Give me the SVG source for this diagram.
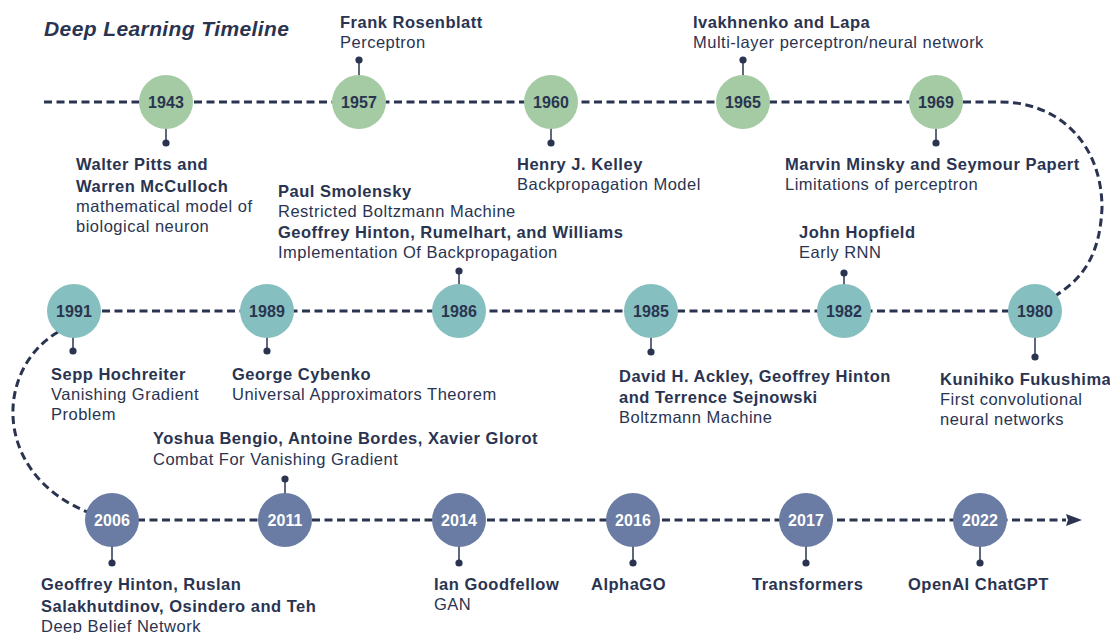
<svg xmlns="http://www.w3.org/2000/svg" width="1110" height="633" viewBox="0 0 1110 633">
<style>
text{font-family:"Liberation Sans",Arial,sans-serif;fill:#2a3451;letter-spacing:0.5px}
.t{font-size:21px;font-weight:bold;font-style:italic;letter-spacing:0.4px}
.b{font-size:16.5px;font-weight:bold}
.r{font-size:16.5px}
.y{font-size:16px;font-weight:bold;text-anchor:middle;letter-spacing:0.1px}
.yw{fill:#ffffff}
.g1{fill:#a4cba4}
.g2{fill:#86bfbf}
.g3{fill:#6a7ca3}
.stem{stroke:#2a3451;stroke-width:1.5}
.dot{fill:#2a3451}
.con{fill:none;stroke:#2a3451;stroke-width:3;stroke-dasharray:8 4.5}
</style>
<defs>
<marker id="ah" viewBox="0 0 16 12" markerWidth="16" markerHeight="12" refX="0" refY="6" orient="auto" markerUnits="userSpaceOnUse">
<path d="M0,0 L16,6 L0,12 L2,6 Z" fill="#2a3451"/>
</marker>
</defs>
<rect width="1110" height="633" fill="#ffffff"/>
<text class="t" x="44" y="36">Deep Learning Timeline</text>

<g id="connectors">
<path class="con" d="M44 102 L936 102"/>
<path class="con" d="M963 102 L1000 102 C1060 102 1102 145 1102 208 C1100 250 1087 275 1058 294 L1035 311"/>
<path class="con" d="M1035 311 L75 311"/>
<path class="con" d="M58 332 C-10 372 -8 490 112 520"/>
<path class="con" d="M112 520 L1066 520" marker-end="url(#ah)"/>
</g>

<g id="n1943">
<line class="stem" x1="166" y1="128" x2="166" y2="143"/><circle class="dot" cx="166" cy="143" r="3.6"/>
<circle class="g1" cx="166" cy="102" r="27"/>
<text class="y" x="166" y="107.5">1943</text>
<text class="b" x="76" y="170">Walter Pitts and</text>
<text class="b" x="76" y="192">Warren McCulloch</text>
<text class="r" x="76" y="212">mathematical model of</text>
<text class="r" x="76" y="232">biological neuron</text>
</g>
<g id="n1957">
<line class="stem" x1="359" y1="60" x2="359" y2="76"/><circle class="dot" cx="359" cy="60" r="3.6"/>
<circle class="g1" cx="359" cy="102" r="27"/>
<text class="y" x="359" y="107.5">1957</text>
<text class="b" x="340" y="28">Frank Rosenblatt</text>
<text class="r" x="340" y="48">Perceptron</text>
</g>
<g id="n1960">
<line class="stem" x1="551" y1="128" x2="551" y2="143"/><circle class="dot" cx="551" cy="143" r="3.6"/>
<circle class="g1" cx="551" cy="102" r="27"/>
<text class="y" x="551" y="107.5">1960</text>
<text class="b" x="517" y="170">Henry J. Kelley</text>
<text class="r" x="517" y="190">Backpropagation Model</text>
</g>
<g id="n1965">
<line class="stem" x1="743" y1="60" x2="743" y2="76"/><circle class="dot" cx="743" cy="60" r="3.6"/>
<circle class="g1" cx="743" cy="102" r="27"/>
<text class="y" x="743" y="107.5">1965</text>
<text class="b" x="693" y="28">Ivakhnenko and Lapa</text>
<text class="r" x="693" y="48">Multi-layer perceptron/neural network</text>
</g>
<g id="n1969">
<line class="stem" x1="936" y1="128" x2="936" y2="143"/><circle class="dot" cx="936" cy="143" r="3.6"/>
<circle class="g1" cx="936" cy="102" r="27"/>
<text class="y" x="936" y="107.5">1969</text>
<text class="b" x="785" y="170">Marvin Minsky and Seymour Papert</text>
<text class="r" x="785" y="190">Limitations of perceptron</text>
</g>

<g id="n1980">
<line class="stem" x1="1035" y1="337" x2="1035" y2="357"/><circle class="dot" cx="1035" cy="357" r="3.6"/>
<circle class="g2" cx="1035" cy="311" r="27"/>
<text class="y" x="1035" y="316.5">1980</text>
<text class="b" x="940" y="385">Kunihiko Fukushima</text>
<text class="r" x="940" y="405">First convolutional</text>
<text class="r" x="940" y="425">neural networks</text>
</g>
<g id="n1982">
<line class="stem" x1="844" y1="273" x2="844" y2="285"/><circle class="dot" cx="844" cy="273" r="3.6"/>
<circle class="g2" cx="844" cy="311" r="27"/>
<text class="y" x="844" y="316.5">1982</text>
<text class="b" x="799" y="238">John Hopfield</text>
<text class="r" x="799" y="258">Early RNN</text>
</g>
<g id="n1985">
<line class="stem" x1="651" y1="337" x2="651" y2="352"/><circle class="dot" cx="651" cy="352" r="3.6"/>
<circle class="g2" cx="651" cy="311" r="27"/>
<text class="y" x="651" y="316.5">1985</text>
<text class="b" x="619" y="382">David H. Ackley, Geoffrey Hinton</text>
<text class="b" x="619" y="403">and Terrence Sejnowski</text>
<text class="r" x="619" y="423">Boltzmann Machine</text>
</g>
<g id="n1986">
<line class="stem" x1="459" y1="271" x2="459" y2="285"/><circle class="dot" cx="459" cy="271" r="3.6"/>
<circle class="g2" cx="459" cy="311" r="27"/>
<text class="y" x="459" y="316.5">1986</text>
<text class="b" x="278" y="197">Paul Smolensky</text>
<text class="r" x="278" y="217">Restricted Boltzmann Machine</text>
<text class="b" x="278" y="238">Geoffrey Hinton, Rumelhart, and Williams</text>
<text class="r" x="278" y="258">Implementation Of Backpropagation</text>
</g>
<g id="n1989">
<line class="stem" x1="267" y1="337" x2="267" y2="351"/><circle class="dot" cx="267" cy="351" r="3.6"/>
<circle class="g2" cx="267" cy="311" r="27"/>
<text class="y" x="267" y="316.5">1989</text>
<text class="b" x="232" y="380">George Cybenko</text>
<text class="r" x="232" y="400">Universal Approximators Theorem</text>
</g>
<g id="n1991">
<line class="stem" x1="73" y1="337" x2="73" y2="351"/><circle class="dot" cx="73" cy="351" r="3.6"/>
<circle class="g2" cx="74" cy="311" r="27"/>
<text class="y" x="74" y="316.5">1991</text>
<text class="b" x="51" y="380">Sepp Hochreiter</text>
<text class="r" x="51" y="400">Vanishing Gradient</text>
<text class="r" x="51" y="420">Problem</text>
</g>

<g id="n2006">
<line class="stem" x1="112" y1="546" x2="112" y2="563"/><circle class="dot" cx="112" cy="563" r="3.6"/>
<circle class="g3" cx="112" cy="520" r="27"/>
<text class="y yw" x="112" y="525.5">2006</text>
<text class="b" x="41" y="590">Geoffrey Hinton, Ruslan</text>
<text class="b" x="41" y="612">Salakhutdinov, Osindero and Teh</text>
<text class="r" x="41" y="632">Deep Belief Network</text>
</g>
<g id="n2011">
<line class="stem" x1="285" y1="479" x2="285" y2="494"/><circle class="dot" cx="285" cy="479" r="3.6"/>
<circle class="g3" cx="285" cy="520" r="27"/>
<text class="y yw" x="285" y="525.5">2011</text>
<text class="b" x="153" y="444">Yoshua Bengio, Antoine Bordes, Xavier Glorot</text>
<text class="r" x="153" y="465">Combat For Vanishing Gradient</text>
</g>
<g id="n2014">
<line class="stem" x1="459" y1="546" x2="459" y2="563"/><circle class="dot" cx="459" cy="563" r="3.6"/>
<circle class="g3" cx="459" cy="520" r="27"/>
<text class="y yw" x="459" y="525.5">2014</text>
<text class="b" x="434" y="590">Ian Goodfellow</text>
<text class="r" x="434" y="610">GAN</text>
</g>
<g id="n2016">
<line class="stem" x1="633" y1="546" x2="633" y2="563"/><circle class="dot" cx="633" cy="563" r="3.6"/>
<circle class="g3" cx="633" cy="520" r="27"/>
<text class="y yw" x="633" y="525.5">2016</text>
<text class="b" x="591" y="590">AlphaGO</text>
</g>
<g id="n2017">
<line class="stem" x1="806" y1="546" x2="806" y2="563"/><circle class="dot" cx="806" cy="563" r="3.6"/>
<circle class="g3" cx="806" cy="520" r="27"/>
<text class="y yw" x="806" y="525.5">2017</text>
<text class="b" x="752" y="590">Transformers</text>
</g>
<g id="n2022">
<line class="stem" x1="980" y1="546" x2="980" y2="563"/><circle class="dot" cx="980" cy="563" r="3.6"/>
<circle class="g3" cx="980" cy="520" r="27"/>
<text class="y yw" x="980" y="525.5">2022</text>
<text class="b" x="908" y="590">OpenAI ChatGPT</text>
</g>
</svg>
